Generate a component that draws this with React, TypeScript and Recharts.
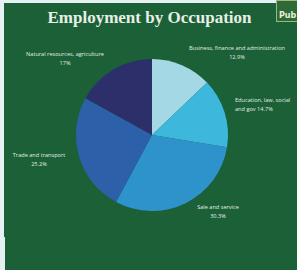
import React from 'react';
import { PieChart, Pie, Cell } from 'recharts';

const categories = [
  'Business, finance and administration',
  'Education, law, social and gov',
  'Sale and service',
  'Trade and transport',
  'Natural resources, agriculture',
];
const shares = [12.9, 14.7, 30.3, 25.2, 17];
const shareLabels = ['12.9%', '14.7%', '30.3%', '25.2%', '17%'];
const labelLines: string[][] = [
  ['Business, finance and administration', '12.9%'],
  ['Education, law, social', 'and gov 14.7%'],
  ['Sale and service', '30.3%'],
  ['Trade and transport', '25.2%'],
  ['Natural resources, agriculture', '17%'],
];
const colors = ['#a3d8e4', '#3db8dc', '#2f93cb', '#2c60a8', '#2d2f6b'];

// label placement relative to pie center (layout only)
const labelOffsets = [
  { dx: 85, dy: -85, anchor: 'middle' },
  { dx: 83, dy: -33, anchor: 'start' },
  { dx: 66, dy: 74, anchor: 'middle' },
  { dx: -113, dy: 22, anchor: 'middle' },
  { dx: -87, dy: -79, anchor: 'middle' },
];

const data = categories.map((name, i) => ({ name, value: shares[i], pct: shareLabels[i] }));

const renderLabel = (props: any) => {
  const { cx, cy, index } = props;
  const o = labelOffsets[index];
  const lines = labelLines[index];
  return (
    <text
      x={cx + o.dx}
      y={cy + o.dy}
      textAnchor={o.anchor}
      fill="#e4eee6"
      fontSize={5.6}
      fontFamily="'Open Sans', sans-serif"
    >
      {lines.map((l, k) => (
        <tspan key={k} x={cx + o.dx} dy={k === 0 ? 0 : 8.5}>
          {l}
        </tspan>
      ))}
    </text>
  );
};

export default function App() {
  return (
    <div
      style={{
        position: 'absolute',
        left: 0,
        top: 0,
        width: 297,
        height: 270,
        background: '#e6f1f3',
        overflow: 'hidden',
      }}
    >
      <div
        style={{
          position: 'absolute',
          left: 4,
          top: 3,
          width: 293,
          height: 267,
          background: '#1b6037',
        }}
      >
        <div
          style={{
            position: 'absolute',
            left: 0,
            width: 291,
            top: 5,
            textAlign: 'center',
            color: '#e8efe6',
            fontFamily: "'Liberation Serif', 'Times New Roman', serif",
            fontWeight: 'bold',
            fontSize: 17,
            lineHeight: '20px',
          }}
        >
          Employment by Occupation
        </div>
        <div
          style={{
            position: 'absolute',
            left: 272,
            top: -3,
            width: 30,
            height: 22,
            background: '#2d6a38',
            border: '1px solid #9fb87a',
            color: '#e8f0d8',
            fontFamily: "'DejaVu Sans', sans-serif",
            fontWeight: 'bold',
            fontSize: 8,
            lineHeight: '8px',
            paddingTop: 11,
            paddingLeft: 2,
            boxSizing: 'border-box',
          }}
        >
          Pub
        </div>
        <PieChart
          width={293}
          height={267}
          margin={{ top: 0, right: 0, bottom: 0, left: 0 }}
          style={{ position: 'absolute', left: 0, top: 0 }}
        >
          <Pie
            data={data}
            dataKey="value"
            nameKey="name"
            cx={148}
            cy={132}
            outerRadius={76}
            startAngle={90}
            endAngle={-270}
            stroke="none"
            label={renderLabel}
            labelLine={false}
            isAnimationActive={false}
          >
            {data.map((d, i) => (
              <Cell key={d.name} fill={colors[i]} />
            ))}
          </Pie>
        </PieChart>
      </div>
      <div
        style={{
          position: 'absolute',
          left: 0,
          top: 237,
          width: 5,
          height: 33,
          background: '#e6f1f3',
        }}
      />
    </div>
  );
}
